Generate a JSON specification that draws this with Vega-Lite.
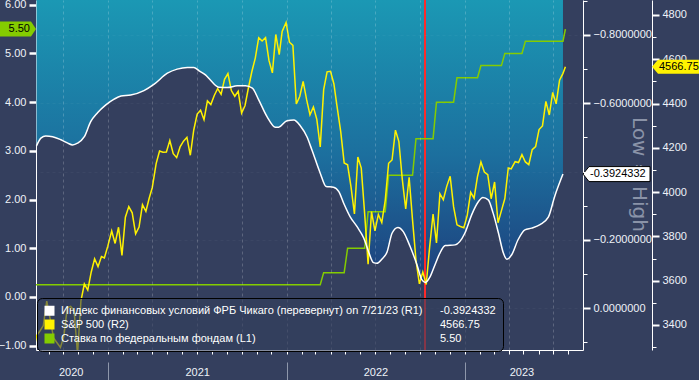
{
  "$schema": "https://vega.github.io/schema/vega-lite/v6.json",
  "width": 547,
  "height": 350,
  "autosize": {"type": "none"},
  "padding": {"left": 36, "top": 0, "right": 116, "bottom": 30},
  "background": "#343f5e",
  "config": {
    "view": {"stroke": null},
    "font": "Liberation Sans",
    "axis": {"labelFont": "Liberation Sans", "labelFontSize": 11, "labelColor": "#eef2f8", "domainColor": "#ffffff", "tickColor": "#ffffff", "gridColor": "#ffffff", "gridOpacity": 0.2, "gridDash": [3, 3], "labelOverlap": false}
  },
  "datasets": {
    "nfci": [
      {"date": "2020-08-07", "nfci": -0.475}, {"date": "2020-08-16", "nfci": -0.498}, {"date": "2020-08-26", "nfci": -0.504},
      {"date": "2020-09-09", "nfci": -0.502}, {"date": "2020-09-26", "nfci": -0.493}, {"date": "2020-10-10", "nfci": -0.483},
      {"date": "2020-10-20", "nfci": -0.478}, {"date": "2020-10-30", "nfci": -0.483}, {"date": "2020-11-13", "nfci": -0.502},
      {"date": "2020-11-26", "nfci": -0.546}, {"date": "2020-12-10", "nfci": -0.572}, {"date": "2020-12-27", "nfci": -0.595},
      {"date": "2021-01-13", "nfci": -0.612}, {"date": "2021-01-27", "nfci": -0.621}, {"date": "2021-02-16", "nfci": -0.624},
      {"date": "2021-03-15", "nfci": -0.637}, {"date": "2021-04-05", "nfci": -0.656}, {"date": "2021-05-02", "nfci": -0.688},
      {"date": "2021-05-22", "nfci": -0.700}, {"date": "2021-06-12", "nfci": -0.705}, {"date": "2021-06-25", "nfci": -0.705},
      {"date": "2021-07-06", "nfci": -0.695}, {"date": "2021-07-19", "nfci": -0.683}, {"date": "2021-07-29", "nfci": -0.668},
      {"date": "2021-08-15", "nfci": -0.647}, {"date": "2021-09-02", "nfci": -0.646}, {"date": "2021-09-22", "nfci": -0.651},
      {"date": "2021-10-09", "nfci": -0.651}, {"date": "2021-10-23", "nfci": -0.644}, {"date": "2021-11-05", "nfci": -0.610},
      {"date": "2021-11-22", "nfci": -0.561}, {"date": "2021-12-09", "nfci": -0.530}, {"date": "2021-12-16", "nfci": -0.530},
      {"date": "2022-01-02", "nfci": -0.549}, {"date": "2022-01-16", "nfci": -0.551}, {"date": "2022-01-29", "nfci": -0.534},
      {"date": "2022-02-12", "nfci": -0.501}, {"date": "2022-02-22", "nfci": -0.463}, {"date": "2022-03-11", "nfci": -0.395},
      {"date": "2022-03-23", "nfci": -0.356}, {"date": "2022-04-07", "nfci": -0.354}, {"date": "2022-04-18", "nfci": -0.341},
      {"date": "2022-04-28", "nfci": -0.307}, {"date": "2022-05-11", "nfci": -0.268}, {"date": "2022-05-25", "nfci": -0.239},
      {"date": "2022-06-08", "nfci": -0.205}, {"date": "2022-06-18", "nfci": -0.165}, {"date": "2022-06-28", "nfci": -0.133},
      {"date": "2022-07-05", "nfci": -0.131}, {"date": "2022-07-15", "nfci": -0.143}, {"date": "2022-07-26", "nfci": -0.165},
      {"date": "2022-08-05", "nfci": -0.219}, {"date": "2022-08-17", "nfci": -0.236}, {"date": "2022-08-28", "nfci": -0.224},
      {"date": "2022-09-11", "nfci": -0.180}, {"date": "2022-09-25", "nfci": -0.127}, {"date": "2022-10-05", "nfci": -0.083},
      {"date": "2022-10-12", "nfci": -0.075}, {"date": "2022-10-22", "nfci": -0.092}, {"date": "2022-11-01", "nfci": -0.127},
      {"date": "2022-11-11", "nfci": -0.161}, {"date": "2022-11-22", "nfci": -0.183}, {"date": "2022-12-12", "nfci": -0.185},
      {"date": "2023-01-01", "nfci": -0.219}, {"date": "2023-01-15", "nfci": -0.273}, {"date": "2023-01-29", "nfci": -0.312},
      {"date": "2023-02-07", "nfci": -0.324}, {"date": "2023-02-18", "nfci": -0.317}, {"date": "2023-02-28", "nfci": -0.278},
      {"date": "2023-03-11", "nfci": -0.219}, {"date": "2023-03-21", "nfci": -0.161}, {"date": "2023-03-28", "nfci": -0.143},
      {"date": "2023-04-07", "nfci": -0.156}, {"date": "2023-04-20", "nfci": -0.200}, {"date": "2023-05-04", "nfci": -0.229},
      {"date": "2023-05-18", "nfci": -0.234}, {"date": "2023-06-04", "nfci": -0.244}, {"date": "2023-06-21", "nfci": -0.266},
      {"date": "2023-07-04", "nfci": -0.327}, {"date": "2023-07-21", "nfci": -0.3924332}
    ],
    "spx": [
      {"date": "2020-07-24", "spx": 3215.63}, {"date": "2020-07-31", "spx": 3271.12},
      {"date": "2020-08-07", "spx": 3351.28}, {"date": "2020-08-14", "spx": 3372.85}, {"date": "2020-08-21", "spx": 3397.16}, {"date": "2020-08-28", "spx": 3508.01},
      {"date": "2020-09-04", "spx": 3426.96}, {"date": "2020-09-11", "spx": 3340.97}, {"date": "2020-09-18", "spx": 3319.47}, {"date": "2020-09-25", "spx": 3298.46},
      {"date": "2020-10-02", "spx": 3348.42}, {"date": "2020-10-09", "spx": 3477.13}, {"date": "2020-10-16", "spx": 3483.81}, {"date": "2020-10-23", "spx": 3465.39},
      {"date": "2020-10-30", "spx": 3269.96}, {"date": "2020-11-06", "spx": 3509.44}, {"date": "2020-11-13", "spx": 3585.15}, {"date": "2020-11-20", "spx": 3557.54},
      {"date": "2020-11-27", "spx": 3638.35}, {"date": "2020-12-04", "spx": 3699.12}, {"date": "2020-12-11", "spx": 3663.46}, {"date": "2020-12-18", "spx": 3709.41},
      {"date": "2020-12-24", "spx": 3703.06}, {"date": "2020-12-31", "spx": 3756.07},
      {"date": "2021-01-08", "spx": 3824.68}, {"date": "2021-01-15", "spx": 3768.25}, {"date": "2021-01-22", "spx": 3841.47}, {"date": "2021-01-29", "spx": 3714.24},
      {"date": "2021-02-05", "spx": 3886.83}, {"date": "2021-02-12", "spx": 3934.83}, {"date": "2021-02-19", "spx": 3906.71}, {"date": "2021-02-26", "spx": 3811.15},
      {"date": "2021-03-05", "spx": 3841.94}, {"date": "2021-03-12", "spx": 3943.34}, {"date": "2021-03-19", "spx": 3913.10}, {"date": "2021-03-26", "spx": 3974.54},
      {"date": "2021-04-01", "spx": 4019.87}, {"date": "2021-04-09", "spx": 4128.80}, {"date": "2021-04-16", "spx": 4185.47}, {"date": "2021-04-23", "spx": 4180.17},
      {"date": "2021-04-30", "spx": 4181.17}, {"date": "2021-05-07", "spx": 4232.60}, {"date": "2021-05-14", "spx": 4173.85}, {"date": "2021-05-21", "spx": 4155.86},
      {"date": "2021-05-28", "spx": 4204.11}, {"date": "2021-06-04", "spx": 4229.89}, {"date": "2021-06-11", "spx": 4247.44}, {"date": "2021-06-18", "spx": 4166.45},
      {"date": "2021-06-25", "spx": 4280.70}, {"date": "2021-07-02", "spx": 4352.34}, {"date": "2021-07-09", "spx": 4369.55}, {"date": "2021-07-16", "spx": 4327.16},
      {"date": "2021-07-23", "spx": 4411.79}, {"date": "2021-07-30", "spx": 4395.26}, {"date": "2021-08-06", "spx": 4436.52}, {"date": "2021-08-13", "spx": 4468.00},
      {"date": "2021-08-20", "spx": 4441.67}, {"date": "2021-08-27", "spx": 4509.37}, {"date": "2021-09-03", "spx": 4535.43}, {"date": "2021-09-10", "spx": 4458.58},
      {"date": "2021-09-17", "spx": 4432.99}, {"date": "2021-09-24", "spx": 4455.48}, {"date": "2021-10-01", "spx": 4357.04}, {"date": "2021-10-08", "spx": 4391.34},
      {"date": "2021-10-15", "spx": 4471.37}, {"date": "2021-10-22", "spx": 4544.90}, {"date": "2021-10-29", "spx": 4605.38}, {"date": "2021-11-05", "spx": 4697.53},
      {"date": "2021-11-12", "spx": 4682.85}, {"date": "2021-11-19", "spx": 4697.96}, {"date": "2021-11-26", "spx": 4594.62}, {"date": "2021-12-03", "spx": 4538.43},
      {"date": "2021-12-10", "spx": 4712.02}, {"date": "2021-12-17", "spx": 4620.64}, {"date": "2021-12-23", "spx": 4725.79}, {"date": "2021-12-31", "spx": 4766.18},
      {"date": "2022-01-07", "spx": 4677.03}, {"date": "2022-01-14", "spx": 4662.85}, {"date": "2022-01-21", "spx": 4397.94}, {"date": "2022-01-28", "spx": 4431.85},
      {"date": "2022-02-04", "spx": 4500.53}, {"date": "2022-02-11", "spx": 4418.64}, {"date": "2022-02-18", "spx": 4348.87}, {"date": "2022-02-25", "spx": 4384.65},
      {"date": "2022-03-04", "spx": 4328.87}, {"date": "2022-03-11", "spx": 4204.31}, {"date": "2022-03-18", "spx": 4463.12}, {"date": "2022-03-25", "spx": 4543.06},
      {"date": "2022-04-01", "spx": 4545.86}, {"date": "2022-04-08", "spx": 4488.28}, {"date": "2022-04-14", "spx": 4392.59}, {"date": "2022-04-22", "spx": 4271.78},
      {"date": "2022-04-29", "spx": 4131.93}, {"date": "2022-05-06", "spx": 4123.34}, {"date": "2022-05-13", "spx": 4023.89}, {"date": "2022-05-20", "spx": 3901.36},
      {"date": "2022-05-27", "spx": 4158.24}, {"date": "2022-06-03", "spx": 4108.54}, {"date": "2022-06-10", "spx": 3900.86}, {"date": "2022-06-17", "spx": 3674.84},
      {"date": "2022-06-24", "spx": 3911.74}, {"date": "2022-07-01", "spx": 3825.33}, {"date": "2022-07-08", "spx": 3899.38}, {"date": "2022-07-15", "spx": 3863.16},
      {"date": "2022-07-22", "spx": 3961.63}, {"date": "2022-07-29", "spx": 4130.29}, {"date": "2022-08-05", "spx": 4145.19}, {"date": "2022-08-12", "spx": 4280.15},
      {"date": "2022-08-19", "spx": 4228.48}, {"date": "2022-08-26", "spx": 4057.66}, {"date": "2022-09-02", "spx": 3924.26}, {"date": "2022-09-09", "spx": 4067.36},
      {"date": "2022-09-16", "spx": 3873.33}, {"date": "2022-09-23", "spx": 3693.23}, {"date": "2022-09-30", "spx": 3585.62}, {"date": "2022-10-07", "spx": 3639.66},
      {"date": "2022-10-14", "spx": 3583.07}, {"date": "2022-10-21", "spx": 3752.75}, {"date": "2022-10-28", "spx": 3901.06}, {"date": "2022-11-04", "spx": 3770.55},
      {"date": "2022-11-11", "spx": 3992.93}, {"date": "2022-11-18", "spx": 3965.34}, {"date": "2022-11-25", "spx": 4026.12}, {"date": "2022-12-02", "spx": 4071.70},
      {"date": "2022-12-09", "spx": 3934.38}, {"date": "2022-12-16", "spx": 3852.36}, {"date": "2022-12-23", "spx": 3844.82}, {"date": "2022-12-30", "spx": 3839.50},
      {"date": "2023-01-06", "spx": 3895.08}, {"date": "2023-01-13", "spx": 3999.09}, {"date": "2023-01-20", "spx": 3972.61}, {"date": "2023-01-27", "spx": 4070.56},
      {"date": "2023-02-03", "spx": 4136.48}, {"date": "2023-02-10", "spx": 4090.46}, {"date": "2023-02-17", "spx": 4079.09}, {"date": "2023-02-24", "spx": 3970.04},
      {"date": "2023-03-03", "spx": 4045.64}, {"date": "2023-03-10", "spx": 3861.59}, {"date": "2023-03-17", "spx": 3916.64}, {"date": "2023-03-24", "spx": 3970.99},
      {"date": "2023-03-31", "spx": 4109.31}, {"date": "2023-04-06", "spx": 4105.02}, {"date": "2023-04-14", "spx": 4137.64}, {"date": "2023-04-21", "spx": 4133.52},
      {"date": "2023-04-28", "spx": 4169.48}, {"date": "2023-05-05", "spx": 4136.25}, {"date": "2023-05-12", "spx": 4124.08}, {"date": "2023-05-19", "spx": 4191.98},
      {"date": "2023-05-26", "spx": 4205.45}, {"date": "2023-06-02", "spx": 4282.37}, {"date": "2023-06-09", "spx": 4298.86}, {"date": "2023-06-16", "spx": 4409.59},
      {"date": "2023-06-23", "spx": 4348.33}, {"date": "2023-06-30", "spx": 4450.38}, {"date": "2023-07-07", "spx": 4398.95}, {"date": "2023-07-14", "spx": 4505.42},
      {"date": "2023-07-21", "spx": 4536.34}, {"date": "2023-07-26", "spx": 4566.75}
    ],
    "fed": [
      {"date": "2020-07-31", "rate": 0.25}, {"date": "2022-03-11", "rate": 0.25}, {"date": "2022-03-18", "rate": 0.5},
      {"date": "2022-04-29", "rate": 0.5}, {"date": "2022-05-06", "rate": 1.0}, {"date": "2022-06-10", "rate": 1.0},
      {"date": "2022-06-17", "rate": 1.75}, {"date": "2022-07-22", "rate": 1.75}, {"date": "2022-07-29", "rate": 2.5},
      {"date": "2022-09-16", "rate": 2.5}, {"date": "2022-09-23", "rate": 3.25}, {"date": "2022-10-28", "rate": 3.25},
      {"date": "2022-11-04", "rate": 4.0}, {"date": "2022-12-09", "rate": 4.0}, {"date": "2022-12-16", "rate": 4.5},
      {"date": "2023-01-27", "rate": 4.5}, {"date": "2023-02-03", "rate": 4.75}, {"date": "2023-03-17", "rate": 4.75},
      {"date": "2023-03-24", "rate": 5.0}, {"date": "2023-04-28", "rate": 5.0}, {"date": "2023-05-05", "rate": 5.25},
      {"date": "2023-07-21", "rate": 5.25}, {"date": "2023-07-26", "rate": 5.5}
    ]
  },
  "layer": [
    {
      "data": {"name": "nfci"},
      "layer": [
        {
          "mark": {"type": "area", "interpolate": "monotone", "clip": true,
            "fill": {"gradient": "linear", "x1": 0, "y1": 0, "x2": 0, "y2": 1,
              "stops": [{"offset": 0, "color": "#1b98b4"}, {"offset": 0.55, "color": "#1c6f9e"}, {"offset": 1, "color": "#1e3f7c"}]}},
          "encoding": {
            "x": {"field": "date", "type": "temporal",
              "scale": {"domain": [{"year": 2020, "month": 8, "date": 6, "utc": true}, {"year": 2023, "month": 8, "date": 31, "utc": true}]},
              "axis": {"orient": "bottom", "tickCount": {"interval": "month", "step": 3}, "grid": true, "labels": false, "ticks": false, "domain": false, "title": null, "zindex": 1}},
            "y": {"field": "nfci", "type": "quantitative",
              "scale": {"domain": [-0.9025, 0.123], "reverse": true, "nice": false, "zero": false},
              "axis": {"orient": "right", "values": [-0.9, -0.8, -0.7, -0.6, -0.5, -0.4, -0.3, -0.2, -0.1, 0, 0.1], "grid": true,
                "gridOpacity": {"condition": {"test": "round(datum.value * 10) % 2 != 0", "value": 0}, "value": 0.2},
                "labels": false, "ticks": true, "tickSize": 4, "domain": false, "title": null, "zindex": 1}},
            "y2": {"datum": -0.9025}
          }
        },
        {
          "mark": {"type": "rule", "color": "#ff2b2b", "strokeWidth": 1},
          "encoding": {"x": {"datum": {"year": 2022, "month": 10, "date": 12, "utc": true}, "type": "temporal"}}
        }
      ]
    },
    {
      "layer": [
        {
          "data": {"name": "fed"},
          "mark": {"type": "line", "strokeWidth": 1.5, "clip": true},
          "encoding": {
            "x": {"field": "date", "type": "temporal",
              "scale": {"domain": [{"year": 2020, "month": 8, "date": 6, "utc": true}, {"year": 2023, "month": 8, "date": 31, "utc": true}]},
              "axis": {"orient": "bottom", "offset": 12, "tickCount": "year", "tickSize": 18, "tickColor": "#8e97ab", "labels": false, "domain": false, "grid": false, "title": null}},
            "y": {"field": "rate", "type": "quantitative",
              "scale": {"domain": [-1.088, 6.0965], "nice": false, "zero": false},
              "axis": {"orient": "left", "values": [-1, -0.5, 0, 0.5, 1, 1.5, 2, 2.5, 3, 3.5, 4, 4.5, 5, 5.5, 6],
                "labelExpr": "datum.value % 1 == 0 ? format(datum.value, '.2f') : ''",
                "tickSize": {"condition": {"test": "datum.value % 1 != 0", "value": 4}, "value": 7},
                "tickWidth": {"condition": {"test": "datum.value % 1 != 0", "value": 1}, "value": 2.5},
                "labelPadding": 3, "grid": false, "title": null}},
            "color": {"datum": "Ставка по федеральным фондам (L1)", "type": "nominal"}
          }
        },
        {
          "data": {"values": [{"label": "5.50", "value": 5.5}]},
          "mark": {"type": "point", "shape": "M0,0L-5,-7.5L-36,-7.5L-36,7.5L-5,7.5Z", "size": 4, "filled": true, "fill": "#84cc00", "opacity": 1, "strokeWidth": 0},
          "encoding": {"x": {"datum": {"year": 2020, "month": 8, "date": 6, "utc": true}, "type": "temporal"}, "y": {"field": "value", "type": "quantitative"}}
        },
        {
          "data": {"values": [{"label": "5.50", "value": 5.5}]},
          "mark": {"type": "text", "align": "right", "baseline": "middle", "dx": -6, "fontSize": 11, "font": "Liberation Sans", "color": "#000000"},
          "encoding": {"x": {"datum": {"year": 2020, "month": 8, "date": 6, "utc": true}, "type": "temporal"}, "y": {"field": "value", "type": "quantitative"}, "text": {"field": "label"}}
        }
      ]
    },
    {
      "data": {"name": "spx"},
      "mark": {"type": "line", "strokeWidth": 1.5, "clip": true},
      "encoding": {
        "x": {"field": "date", "type": "temporal",
          "scale": {"domain": [{"year": 2020, "month": 8, "date": 6, "utc": true}, {"year": 2023, "month": 8, "date": 31, "utc": true}]},
          "axis": {"orient": "bottom", "values": [{"year": 2020, "month": 10, "date": 16, "utc": true}, {"year": 2021, "month": 7, "date": 2, "utc": true}, {"year": 2022, "month": 7, "date": 2, "utc": true}, {"year": 2023, "month": 4, "date": 27, "utc": true}],
            "format": "%Y", "ticks": false, "domain": false, "grid": false, "labelPadding": 16, "title": null}},
        "y": {"field": "spx", "type": "quantitative",
          "scale": {"domain": [3287, 4867.7], "nice": false, "zero": false},
          "axis": {"orient": "right", "offset": 69, "values": [3400, 3600, 3800, 4000, 4200, 4400, 4600, 4800],
            "format": "d", "labelAlign": "left", "labelBaseline": "middle",
            "tickSize": 7, "tickWidth": 2, "labelPadding": 3, "grid": false, "title": null}},
        "color": {"datum": "S&P 500 (R2)", "type": "nominal"}
      }
    },
    {
      "data": {"values": [{"label": "4566.75", "value": 4566.75}]},
      "layer": [
        {
          "mark": {"type": "point", "shape": "M69,0L75,-7L116,-7L116,7L75,7Z", "size": 4, "filled": true, "fill": "#fff200", "opacity": 1, "strokeWidth": 0},
          "encoding": {
            "x": {"datum": {"year": 2023, "month": 8, "date": 31, "utc": true}, "type": "temporal", "axis": null},
            "y": {"field": "value", "type": "quantitative",
              "scale": {"domain": [3287, 4867.7], "nice": false, "zero": false},
              "axis": {"orient": "right", "offset": 69, "values": [3300, 3500, 3700, 3900, 4100, 4300, 4500, 4700],
                "labels": false, "domain": false, "grid": false, "tickSize": 4, "tickWidth": 1, "title": null}}
          }
        },
        {
          "mark": {"type": "text", "align": "left", "baseline": "middle", "dx": 76, "fontSize": 11, "font": "Liberation Sans", "color": "#000000"},
          "encoding": {
            "x": {"datum": {"year": 2023, "month": 8, "date": 31, "utc": true}, "type": "temporal", "axis": null},
            "y": {"field": "value", "type": "quantitative"},
            "text": {"field": "label"}
          }
        }
      ]
    },
    {
      "layer": [
        {
          "data": {"name": "nfci"},
          "mark": {"type": "line", "interpolate": "monotone", "strokeWidth": 1.5},
          "encoding": {
            "x": {"field": "date", "type": "temporal",
              "scale": {"domain": [{"year": 2020, "month": 8, "date": 6, "utc": true}, {"year": 2023, "month": 8, "date": 31, "utc": true}]},
              "axis": {"orient": "bottom", "tickCount": {"interval": "month", "step": 1}, "tickSize": 4, "labels": false, "domain": true, "grid": false, "title": null}},
            "y": {"field": "nfci", "type": "quantitative",
              "scale": {"domain": [-0.9025, 0.123], "reverse": true, "nice": false, "zero": false},
              "axis": {"orient": "right", "values": [-0.8, -0.6, -0.2, 0],
                "format": ".7f", "labelAlign": "left", "labelBaseline": "middle",
                "tickSize": 7, "tickWidth": 2, "labelPadding": 3, "grid": false,
                "title": "Low = High", "titleAngle": 90, "titleX": 55, "titleY": 174, "titleAlign": "center", "titleBaseline": "middle",
                "titleColor": "#8a93a8", "titleFont": "DejaVu Sans", "titleFontSize": 20, "titleFontWeight": "normal"}},
            "color": {"datum": "Индекс финансовых условий ФРБ Чикаго (перевернут) on 7/21/23 (R1)", "type": "nominal",
              "scale": {
                "domain": ["Индекс финансовых условий ФРБ Чикаго (перевернут) on 7/21/23 (R1)", "S&P 500 (R2)", "Ставка по федеральным фондам (L1)", "-0.3924332", "4566.75", "5.50"],
                "range": ["#ffffff", "#fff200", "#84cc00", "rgba(0,0,0,0)", "rgba(0,0,0,0)", "rgba(0,0,0,0)"]},
              "legend": {"orient": "none", "legendX": 1, "legendY": 298, "columns": 2, "direction": "vertical", "title": null,
                "symbolType": "square", "symbolSize": 100, "symbolStrokeWidth": 0, "symbolOpacity": 1,
                "labelFont": "Liberation Sans", "labelFontSize": 11, "labelColor": "#ffffff", "labelLimit": 800, "labelOffset": 6,
                "rowPadding": 2, "columnPadding": -13, "padding": 7,
                "fillColor": "rgba(52,63,94,0.6)", "strokeColor": "#000000", "cornerRadius": 5, "zindex": 1,
                "encode": {"symbols": {"update": {"fill": {"scale": "color", "field": "value"}, "strokeWidth": {"value": 0}}}}}}
          }
        },
        {
          "data": {"values": [{"label": "-0.3924332", "value": -0.3924332}]},
          "mark": {"type": "point", "shape": "M0,0L6,-7.5L67,-7.5L67,7.5L6,7.5Z", "size": 4, "filled": true, "fill": "#ffffff", "stroke": "#000000", "strokeWidth": 1, "opacity": 1},
          "encoding": {"x": {"datum": {"year": 2023, "month": 8, "date": 31, "utc": true}, "type": "temporal"}, "y": {"field": "value", "type": "quantitative"}}
        },
        {
          "data": {"values": [{"label": "-0.3924332", "value": -0.3924332}]},
          "mark": {"type": "text", "align": "left", "baseline": "middle", "dx": 7, "fontSize": 11, "font": "Liberation Sans", "color": "#000000"},
          "encoding": {"x": {"datum": {"year": 2023, "month": 8, "date": 31, "utc": true}, "type": "temporal"}, "y": {"field": "value", "type": "quantitative"}, "text": {"field": "label"}}
        }
      ]
    }
  ],
  "resolve": {"scale": {"y": "independent"}, "axis": {"x": "independent", "y": "independent"}}
}
